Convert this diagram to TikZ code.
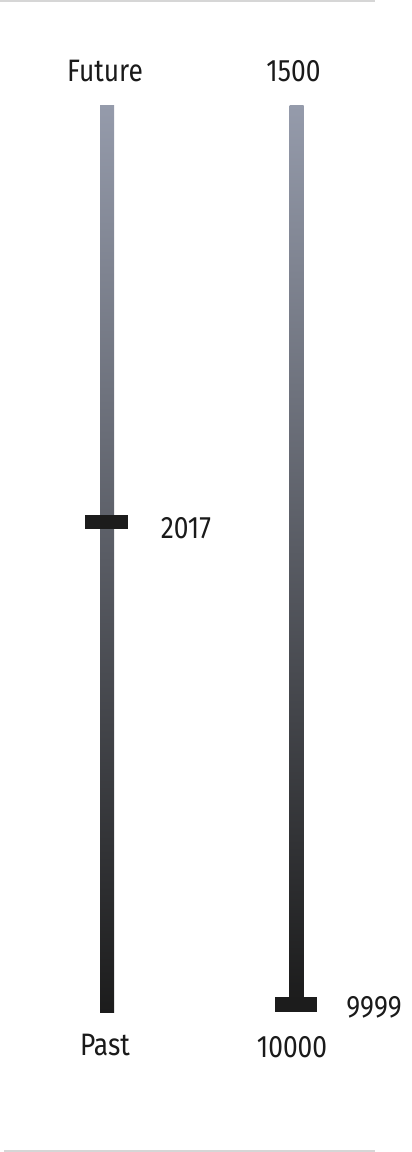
\documentclass[tikz,border=0pt]{standalone}
\usepackage{fontspec}
\setmainfont{Fira Sans}[FakeStretch=0.85]
\usetikzlibrary{positioning}
\definecolor{bartop}{HTML}{959BAB}
\definecolor{barmid}{HTML}{55585E}
\definecolor{barbottom}{HTML}{1C1C1C}
\definecolor{ink}{HTML}{1A1A1A}
\definecolor{rule}{HTML}{D6D6D6}

\begin{document}
\begin{tikzpicture}[
    x=1pt, y=-1pt,
    every node/.style={font=\fontsize{31}{34}\selectfont, text=ink, inner sep=0pt},
    scalebar/.style={rectangle, anchor=north, minimum width=14pt, top color=bartop, middle color=barmid, bottom color=barbottom, draw=none},
    handle/.style={rectangle, fill=barbottom, minimum width=43pt, minimum height=14pt},
    tag/.style={anchor=base}
]
    \useasboundingbox (0,0) rectangle (412,1152);
    \draw[rule, line width=1.5pt] (0,0.75) -- (375,0.75);
    \draw[rule, line width=1.5pt] (4,1151.2) -- (375,1151.2);

    % left scale
    \node[scalebar, minimum height=907pt] (timebar) at (107,105) {};
    \node[tag] (future) at (105,81) {Future};
    \node[tag] (past) at (105,1055) {Past};
    \node[handle] (nowhandle) at (106.5,522) {};
    \node[tag] (nowval) at (186,538) {2017};

    % right scale
    \node[scalebar, minimum height=895pt] (yearbar) at (296.5,105) {};
    \node[tag] (minval) at (293.5,81) {1500};
    \node[tag] (maxval) at (292,1057) {10000};
    \node[handle, minimum width=42pt, minimum height=15pt] (yearhandle) at (296,1004.5) {};
    \node[tag] (yearval) at (374,1017) {9999};
\end{tikzpicture}
\end{document}
